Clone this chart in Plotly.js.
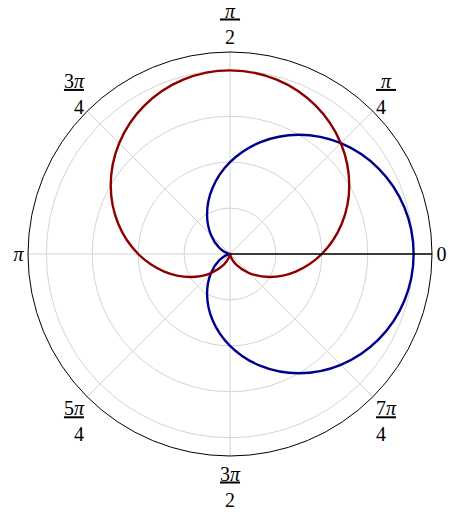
<!DOCTYPE html>
<html>
<head>
<meta charset="utf-8">
<script src="https://cdn.plot.ly/plotly-3.0.1.min.js"></script>
<style>html,body{margin:0;padding:0;background:#fff;}#plot{width:457px;height:513px;}</style>
</head>
<body>
<div id="plot"></div>
<script>
// Angles in degrees
const theta = [0,15,30,45,60,75,90,105,120,135,150,165,180,195,210,225,240,255,270,285,300,315,330,345,360];
// Blue curve radii
const rBlue = [2,1.966,1.866,1.707,1.5,1.259,1,0.741,0.5,0.293,0.134,0.034,0,0.034,0.134,0.293,0.5,0.741,1,1.259,1.5,1.707,1.866,1.966,2];
// Red curve radii
const rRed = [1,1.259,1.5,1.707,1.866,1.966,2,1.966,1.866,1.707,1.5,1.259,1,0.741,0.5,0.293,0.134,0.034,0,0.034,0.134,0.293,0.5,0.741,1];
// Angular ticks
const angTickVals = [0,45,90,135,180,225,270,315];
const angTickText = ['0','<u>&nbsp;<i>π</i>&nbsp;</u><br>4','<u>&nbsp;<i>π</i>&nbsp;</u><br>2','<u>3<i>π</i></u><br>4','<i>π</i>','<u>5<i>π</i></u><br>4','<u>3<i>π</i></u><br>2','<u>7<i>π</i></u><br>4'];
const radTickVals = [0.5,1,1.5,2];

const data = [
  {type:'scatterpolar', mode:'lines', theta:theta, r:rBlue, thetaunit:'degrees',
   line:{color:'rgb(0,0,140)', width:2.4, shape:'spline'}, hoverinfo:'skip'},
  {type:'scatterpolar', mode:'lines', theta:theta, r:rRed, thetaunit:'degrees',
   line:{color:'rgb(140,0,0)', width:2.4, shape:'spline'}, hoverinfo:'skip'}
];
const layout = {
  width:457, height:513,
  margin:{l:0,r:0,t:0,b:0},
  paper_bgcolor:'#fff',
  showlegend:false,
  font:{family:'Liberation Serif, DejaVu Serif, serif', size:20, color:'#000'},
  polar:{
    domain:{x:[28/457, 432/457], y:[57/513, 461/513]},
    bgcolor:'#fff',
    angularaxis:{
      direction:'counterclockwise', rotation:0,
      tickmode:'array', tickvals:angTickVals, ticktext:angTickText,
      showline:true, linecolor:'#000', linewidth:1,
      gridcolor:'#d4d4d4', gridwidth:1,
      ticks:'',
      tickfont:{family:'Liberation Serif, DejaVu Serif, serif', size:20, color:'#000'}
    },
    radialaxis:{
      range:[0,2.2], angle:0,
      tickmode:'array', tickvals:radTickVals,
      showticklabels:false, ticks:'',
      showline:true, linecolor:'#000', linewidth:1.3,
      gridcolor:'#d4d4d4', gridwidth:1
    }
  }
};
Plotly.newPlot('plot', data, layout, {staticPlot:true});
</script>
</body>
</html>
